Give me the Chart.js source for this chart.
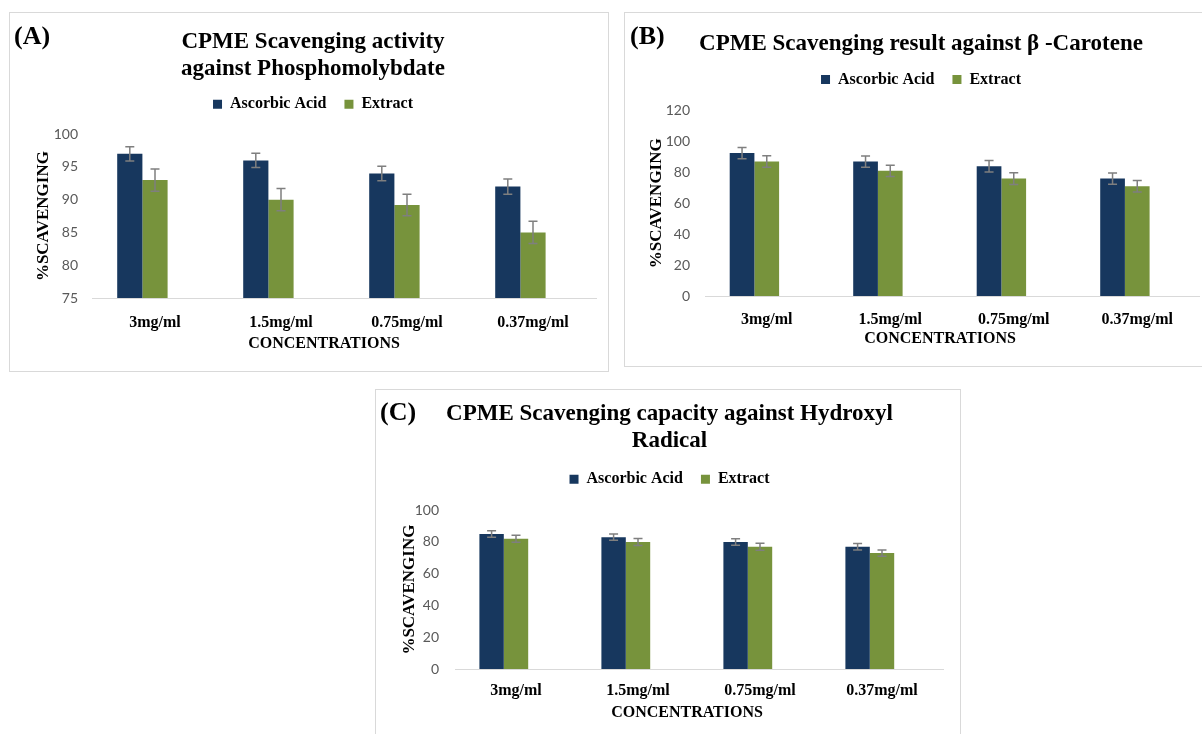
<!DOCTYPE html>
<html>
<head>
<meta charset="utf-8">
<script src="https://cdn.jsdelivr.net/npm/chart.js@4.4.1/dist/chart.umd.min.js"></script>
<style>
  body { margin: 0; background: #fff; width: 1202px; height: 734px; overflow: hidden; position: relative; }
  .panel { position: absolute; border: 1px solid #d9d9d9; background: #fff; }
  .panel canvas { position: absolute; left: 0; top: 0; }
  .tag { position: absolute; font-family: 'Liberation Serif', serif; font-weight: bold; font-size: 26px; line-height: 1; color: #000; }
</style>
</head>
<body>
<div class="panel" style="left:9px;top:12px;width:598px;height:358px;">
  <canvas id="chartA" width="598" height="358"></canvas>
  <div class="tag" style="left:4px;top:10px;">(A)</div>
</div>
<div class="panel" style="left:624px;top:12px;width:580px;height:353px;">
  <canvas id="chartB" width="577" height="353"></canvas>
  <div class="tag" style="left:5px;top:10px;">(B)</div>
</div>
<div class="panel" style="left:375px;top:389px;width:584px;height:350px;">
  <canvas id="chartC" width="584" height="345"></canvas>
  <div class="tag" style="left:4px;top:9px;">(C)</div>
</div>
<script>
const categories = ['3mg/ml', '1.5mg/ml', '0.75mg/ml', '0.37mg/ml'];

// (A) phosphomolybdate
const phosphoAscorbic = [97, 96, 94, 92];
const phosphoExtract = [93, 90, 89.2, 85];
const phosphoAscorbicErr = [1.1, 1.1, 1.1, 1.15];
const phosphoExtractErr = [1.7, 1.7, 1.65, 1.7];
const phosphoTicks = [75, 80, 85, 90, 95, 100];

// (B) beta-carotene
const caroteneAscorbic = [92.5, 87, 84, 76];
const caroteneExtract = [87, 81, 76, 71];
const caroteneAscorbicErr = [3.6, 3.6, 3.7, 3.6];
const caroteneExtractErr = [3.7, 3.6, 3.8, 3.7];
const caroteneTicks = [0, 20, 40, 60, 80, 100, 120];

// (C) hydroxyl radical
const hydroxylAscorbic = [85, 83, 80, 77];
const hydroxylExtract = [82, 80, 77, 73];
const hydroxylAscorbicErr = [2.1, 2, 2.1, 2];
const hydroxylExtractErr = [2.2, 2.2, 2.2, 2];
const hydroxylTicks = [0, 20, 40, 60, 80, 100];

const navy = '#17375E';
const olive = '#77933C';
const serif = "'Liberation Serif', 'Times New Roman', serif";

// gray error bars with caps, drawn through the y scale
const errorBars = {
  id: 'errorBars',
  afterDatasetsDraw(chart) {
    const ctx = chart.ctx;
    const y = chart.scales.y;
    ctx.save();
    ctx.strokeStyle = '#7f7f7f';
    ctx.lineWidth = 1.5;
    chart.data.datasets.forEach((ds, i) => {
      if (!ds.errorBars) return;
      chart.getDatasetMeta(i).data.forEach((bar, j) => {
        const v = ds.data[j], e = ds.errorBars[j];
        const top = y.getPixelForValue(v + e);
        const bot = y.getPixelForValue(v - e);
        ctx.beginPath();
        ctx.moveTo(bar.x, top); ctx.lineTo(bar.x, bot);
        ctx.moveTo(bar.x - 4.5, top); ctx.lineTo(bar.x + 4.5, top);
        ctx.moveTo(bar.x - 4.5, bot); ctx.lineTo(bar.x + 4.5, bot);
        ctx.stroke();
      });
    });
    ctx.restore();
  }
};

function legendGap(extra) {
  return {
    id: 'legendGap',
    beforeInit(chart) {
      const fit = chart.legend.fit;
      chart.legend.fit = function () {
        fit.bind(chart.legend)();
        this.height += extra;
      };
    }
  };
}

function makeChart(id, title, ascorbic, extract, ascErr, extErr, ticks, lay) {
  new Chart(document.getElementById(id), {
    type: 'bar',
    data: {
      labels: categories,
      datasets: [
        { label: 'Ascorbic Acid', data: ascorbic, errorBars: ascErr, backgroundColor: navy },
        { label: 'Extract', data: extract, errorBars: extErr, backgroundColor: olive },
        // empty third series (keeps Excel-style offset of the bar pair)
        { label: '', data: [null, null, null, null], backgroundColor: 'rgba(0,0,0,0)' }
      ]
    },
    plugins: [errorBars, legendGap(lay.legendExtra)],
    options: {
      responsive: false,
      animation: false,
      categoryPercentage: 0.6,
      barPercentage: 1.0,
      layout: { padding: { left: lay.left, right: lay.right, top: 0, bottom: lay.bottom } },
      plugins: {
        title: {
          display: true,
          text: title,
          color: '#000',
          font: { family: serif, size: 23, weight: 'bold', lineHeight: 1.2 },
          padding: { top: lay.titleTop, bottom: lay.titleBottom }
        },
        legend: {
          position: 'top',
          labels: {
            filter: (item) => item.text !== '',
            color: '#000',
            font: { family: serif, size: 16, weight: 'bold' },
            boxWidth: 9,
            boxHeight: 9,
            padding: 18
          }
        },
        tooltip: { enabled: false }
      },
      scales: {
        x: {
          grid: { display: false, drawTicks: false },
          border: { color: '#d9d9d9', width: 1 },
          ticks: { color: '#000', font: { family: serif, size: 16, weight: 'bold' }, padding: lay.xTickPad },
          title: {
            display: true,
            // trailing en spaces pull the centred title left, as in the original
            text: 'CONCENTRATIONS' + '\u2002'.repeat(lay.xTitleShift),
            color: '#000',
            font: { family: serif, size: 16, weight: 'bold' },
            padding: { top: lay.xTitleTop, bottom: 2 }
          }
        },
        y: {
          min: ticks[0],
          max: ticks[ticks.length - 1],
          grid: { display: false, drawTicks: false },
          border: { display: false },
          ticks: {
            stepSize: ticks[1] - ticks[0],
            color: '#595959',
            font: { family: 'Lato, sans-serif', size: 14 },
            padding: lay.yTickPad
          },
          title: {
            display: true,
            text: '%SCAVENGING',
            color: '#000',
            font: { family: serif, size: 17, weight: 'bold' },
            padding: { top: 3, bottom: 4 }
          },
          afterFit: (scale) => { scale.width = lay.yWidth; }
        }
      }
    }
  });
}

makeChart('chartA', ['CPME Scavenging activity', 'against Phosphomolybdate'],
  phosphoAscorbic, phosphoExtract, phosphoAscorbicErr, phosphoExtractErr, phosphoTicks,
  { left: 20, right: 12, bottom: 16, titleTop: 15, titleBottom: -5, legendExtra: 12,
    xTickPad: 15, xTitleTop: -13.4, xTitleShift: 5, yTickPad: 14, yWidth: 62 });

makeChart('chartB', 'CPME Scavenging result against \u03b2 -Carotene',
  caroteneAscorbic, caroteneExtract, caroteneAscorbicErr, caroteneExtractErr, caroteneTicks,
  { left: 18, right: 3, bottom: 16, titleTop: 17, titleBottom: -4, legendExtra: 13,
    xTickPad: 14, xTitleTop: -14.4, xTitleShift: 3, yTickPad: 15, yWidth: 62 });

makeChart('chartC', ['CPME Scavenging capacity against Hydroxyl', 'Radical'],
  hydroxylAscorbic, hydroxylExtract, hydroxylAscorbicErr, hydroxylExtractErr, hydroxylTicks,
  { left: 20, right: 17, bottom: 11, titleTop: 10, titleBottom: -2, legendExtra: 13,
    xTickPad: 12, xTitleTop: -9.4, xTitleShift: 3, yTickPad: 16, yWidth: 59 });
</script>
</body>
</html>
